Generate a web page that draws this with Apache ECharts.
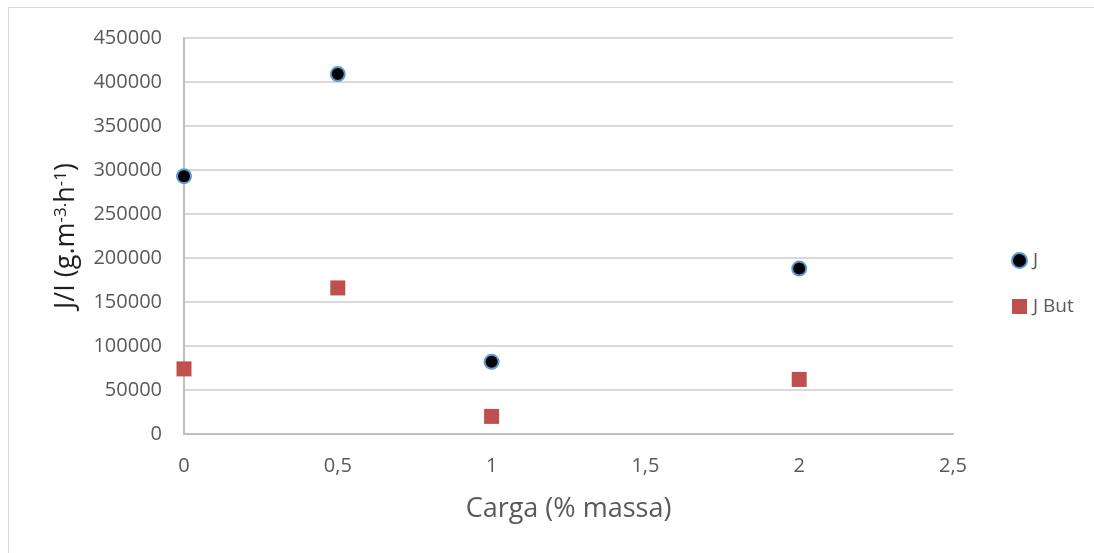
<!DOCTYPE html>
<html>
<head>
<meta charset="utf-8">
<script src="https://cdn.jsdelivr.net/npm/echarts@6/dist/echarts.min.js"></script>
<style>
  html, body { margin: 0; padding: 0; background: #fff; }
  #chart { width: 1094px; height: 553px; }
</style>
</head>
<body>
<div id="chart"></div>
<script>
// Load fraction (% mass) and flux values for both series
const cargaJ = [0, 0.5, 1, 2];
const valuesJ = [293000, 409000, 82000, 188000];
const cargaJBut = [0, 0.5, 1, 2];
const valuesJBut = [74000, 166000, 20000, 62000];
const seriesNames = ['J', 'J But'];

const FONT = '"Open Sans", sans-serif';
const TICK_COLOR = '#595959';

const chart = echarts.init(document.getElementById('chart'));

const pairs = (xs, ys) => xs.map((x, i) => [x, ys[i]]);

chart.setOption({
  backgroundColor: '#fff',
  animation: false,
  graphic: [{
    type: 'rect',
    shape: { x: 8.5, y: 7.5, width: 1200, height: 700 },
    style: { fill: 'none', stroke: '#d9d9d9', lineWidth: 1 },
    silent: true
  }],
  grid: { left: 184, top: 38, width: 769, height: 396 },
  legend: {
    orient: 'vertical',
    left: 1006,
    top: 246,
    itemGap: 27,
    itemWidth: 15,
    itemHeight: 15,
    textStyle: { fontFamily: FONT, fontSize: 19, color: TICK_COLOR, padding: [0, 0, 0, 1] },
    data: [
      { name: seriesNames[0], icon: 'circle' },
      { name: seriesNames[1], icon: 'rect' }
    ]
  },
  xAxis: {
    type: 'value',
    min: 0,
    max: 2.5,
    interval: 0.5,
    name: 'Carga (% massa)',
    nameLocation: 'middle',
    nameGap: 62,
    nameTextStyle: { fontFamily: FONT, fontSize: 27, color: TICK_COLOR },
    axisLine: { lineStyle: { color: '#bfbfbf', width: 2 } },
    axisTick: { show: false },
    splitLine: { show: false },
    axisLabel: {
      margin: 22,
      fontFamily: FONT,
      fontSize: 20,
      color: TICK_COLOR,
      formatter: v => String(v).replace('.', ',')
    }
  },
  yAxis: {
    type: 'value',
    min: 0,
    max: 450000,
    interval: 50000,
    name: '{t|J/I (g.m}{s|-3.}{t|h}{s|-1}{t|)}',
    nameLocation: 'middle',
    nameGap: 104,
    nameRotate: 90,
    nameTextStyle: {
      rich: {
        t: { fontFamily: FONT, fontSize: 27, color: '#1f1f1f', verticalAlign: 'bottom' },
        s: { fontFamily: FONT, fontSize: 17, color: '#1f1f1f', verticalAlign: 'top' }
      }
    },
    axisLine: { show: true, lineStyle: { color: '#bfbfbf', width: 2 } },
    axisTick: { show: false },
    splitLine: { lineStyle: { color: '#d9d9d9', width: 2 } },
    axisLabel: {
      margin: 22,
      fontFamily: FONT,
      fontSize: 20,
      color: TICK_COLOR,
      formatter: v => String(v)
    }
  },
  series: [
    {
      name: seriesNames[0],
      type: 'scatter',
      symbol: 'circle',
      symbolSize: 14,
      itemStyle: { color: '#000', borderColor: '#5b9bd5', borderWidth: 2, opacity: 1 },
      data: pairs(cargaJ, valuesJ),
      z: 3
    },
    {
      name: seriesNames[1],
      type: 'scatter',
      symbol: 'rect',
      symbolSize: 15,
      itemStyle: { color: '#c0504d', opacity: 1 },
      data: pairs(cargaJBut, valuesJBut),
      z: 2
    }
  ]
});
</script>
</body>
</html>
